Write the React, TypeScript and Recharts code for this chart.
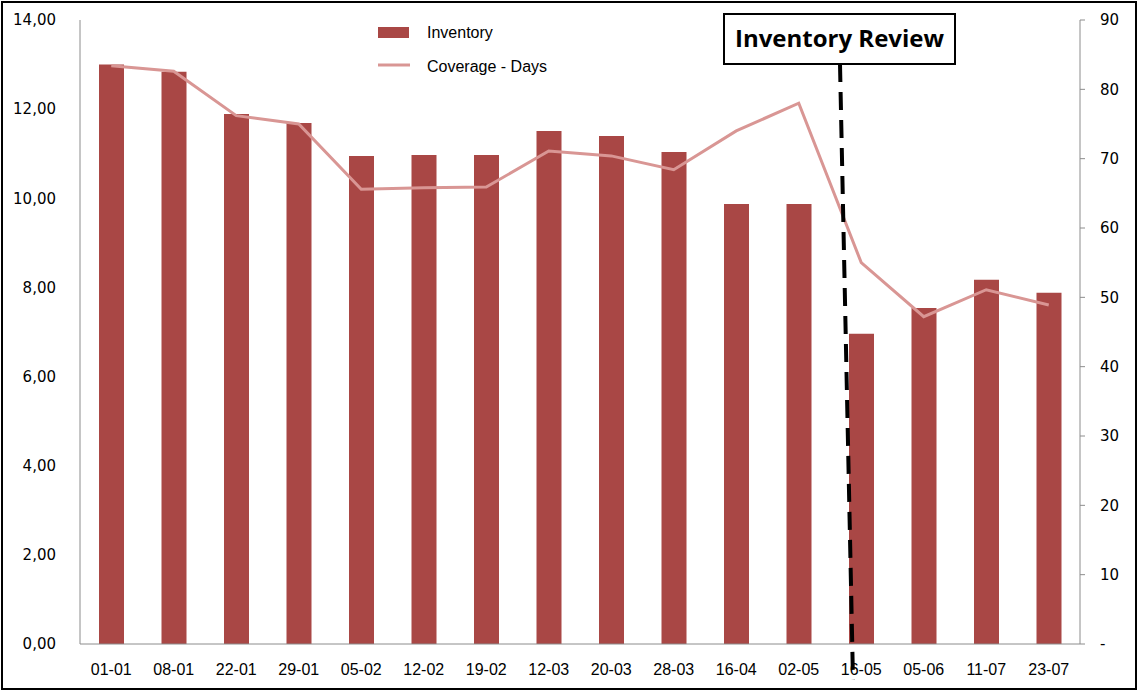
import React from "react";
import {
  ComposedChart,
  Bar,
  Line,
  XAxis,
  YAxis,
} from "recharts";

const categories = [
  "01-01", "08-01", "22-01", "29-01", "05-02", "12-02", "19-02", "12-03",
  "20-03", "28-03", "16-04", "02-05", "16-05", "05-06", "11-07", "23-07",
];
const inventory = [
  13.0, 12.84, 11.89, 11.69, 10.95, 10.97, 10.97, 11.51,
  11.4, 11.04, 9.87, 9.87, 6.96, 7.54, 8.17, 7.88,
];
const coverageDays = [
  83.4, 82.6, 76.2, 75.0, 65.6, 65.8, 65.9, 71.1,
  70.4, 68.4, 74.0, 78.0, 55.0, 47.2, 51.1, 48.9,
];
const leftTicks = [0, 2, 4, 6, 8, 10, 12, 14];
const rightTicks = [0, 10, 20, 30, 40, 50, 60, 70, 80, 90];
const seriesNames = ["Inventory", "Coverage - Days"];
const annotationText = "Inventory Review";

const data = categories.map((c, i) => ({
  cat: c,
  inventory: inventory[i],
  coverage: coverageDays[i],
}));

const BAR = "#A94745";
const LINE = "#D99694";
const AXIS = "#8c8c8c";
const SANS = "'Liberation Sans', Arial, sans-serif";
const VERD = "'DejaVu Sans', Verdana, sans-serif";

export default function App() {
  return (
    <div style={{ position: "absolute", left: 0, top: 0, width: 1139, height: 693, background: "#fff" }}>
      <ComposedChart
        width={1139}
        height={693}
        data={data}
        margin={{ top: 20, right: 0, left: 0, bottom: 0 }}
      >
        <XAxis
          dataKey="cat"
          height={49}
          tickLine={false}
          axisLine={{ stroke: AXIS }}
          tickMargin={14}
          interval={0}
          tick={{ fill: "#000", fontSize: 16, fontFamily: SANS }}
        />
        <YAxis
          yAxisId="left"
          width={80}
          domain={[0, 14]}
          ticks={leftTicks}
          tickLine={false}
          axisLine={{ stroke: AXIS }}
          tickMargin={18}
          tickFormatter={(v: number) => v.toFixed(2).replace(".", ",")}
          tick={{ fill: "#000", fontSize: 15, fontFamily: VERD }}
        />
        <YAxis
          yAxisId="right"
          orientation="right"
          width={59}
          domain={[0, 90]}
          ticks={rightTicks}
          tickSize={5}
          tickLine={{ stroke: AXIS }}
          axisLine={{ stroke: AXIS }}
          tickMargin={15}
          tickFormatter={(v: number) => (v === 0 ? "-" : String(v))}
          tick={{ fill: "#000", fontSize: 15, fontFamily: VERD }}
        />
        <Bar
          yAxisId="left"
          dataKey="inventory"
          name={seriesNames[0]}
          fill={BAR}
          barSize={25}
          isAnimationActive={false}
        />
        <Line
          yAxisId="right"
          dataKey="coverage"
          name={seriesNames[1]}
          stroke={LINE}
          strokeWidth={3}
          dot={false}
          type="linear"
          isAnimationActive={false}
        />
      </ComposedChart>
      <svg
        width={1139}
        height={693}
        style={{ position: "absolute", left: 0, top: 0, pointerEvents: "none" }}
      >
        <rect x={2} y={2} width={1134} height={687} fill="none" stroke="#000" strokeWidth={2} />
        {/* legend */}
        <rect x={378} y={27} width={31} height={11} fill={BAR} />
        <text x={427} y={38} fontSize={16} fontFamily={SANS} fill="#000">{seriesNames[0]}</text>
        <line x1={378} y1={65} x2={410} y2={65} stroke={LINE} strokeWidth={3} />
        <text x={427} y={72} fontSize={16} fontFamily={SANS} fill="#000">{seriesNames[1]}</text>
        {/* annotation */}
        <line x1={840} y1={64} x2={853} y2={680} stroke="#000" strokeWidth={4} strokeDasharray="18 10" />
        <rect x={724} y={14} width={231} height={50} fill="#fff" stroke="#000" strokeWidth={2} />
        <text
          x={839.5}
          y={47}
          textAnchor="middle"
          fontSize={24}
          fontWeight="bold"
          fontFamily="'Open Sans', 'Liberation Sans', sans-serif"
          fill="#000"
        >
          {annotationText}
        </text>
      </svg>
    </div>
  );
}
